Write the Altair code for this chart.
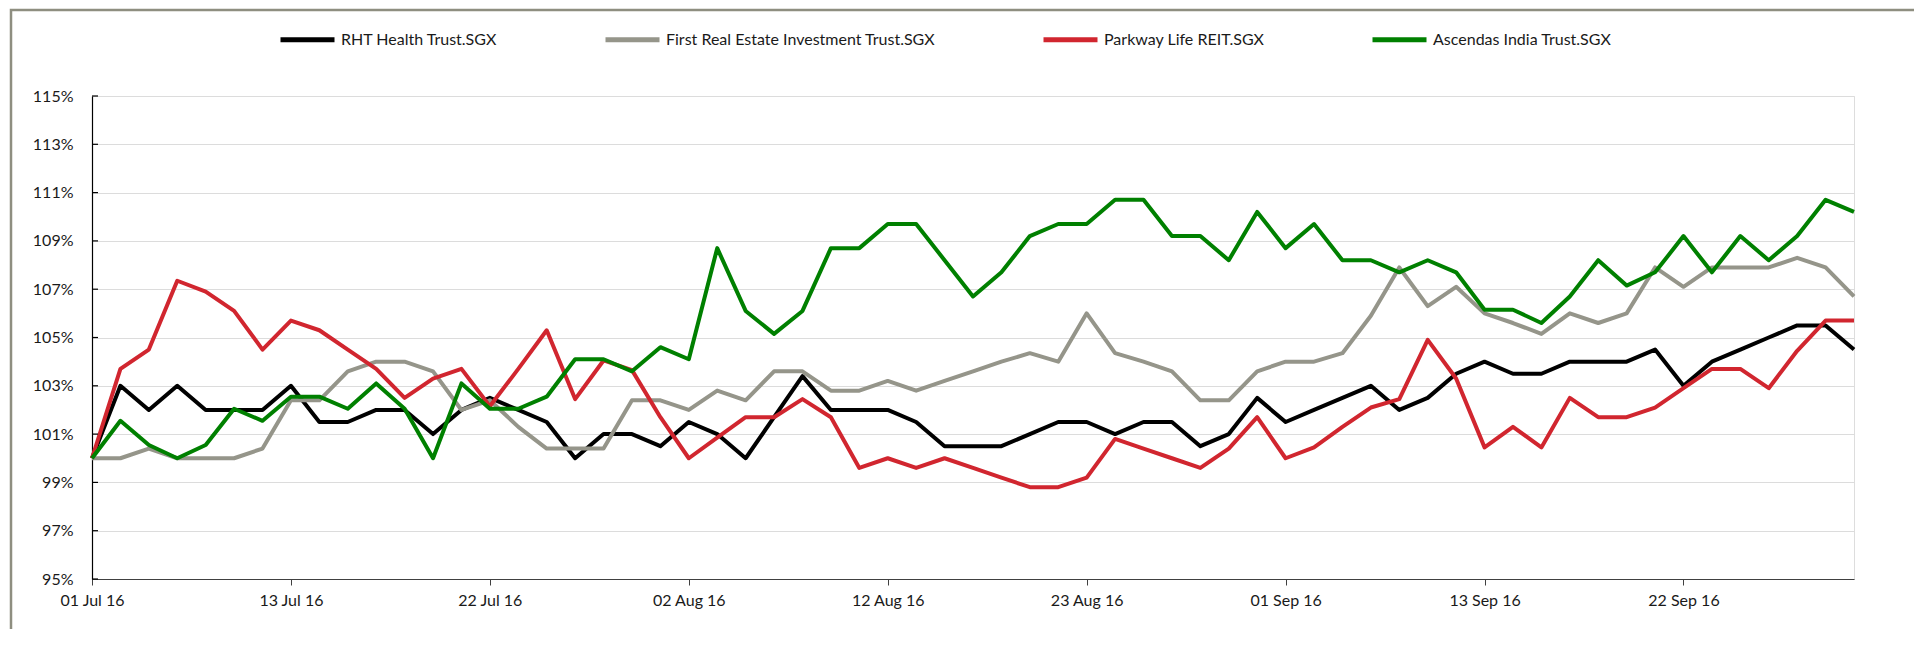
import altair as alt
import pandas as pd

dates = [
    "01 Jul 16", "04 Jul 16", "05 Jul 16", "07 Jul 16", "08 Jul 16",
    "11 Jul 16", "12 Jul 16", "13 Jul 16", "14 Jul 16", "15 Jul 16",
    "18 Jul 16", "19 Jul 16", "20 Jul 16", "21 Jul 16", "22 Jul 16",
    "25 Jul 16", "26 Jul 16", "27 Jul 16", "28 Jul 16", "29 Jul 16",
    "01 Aug 16", "02 Aug 16", "03 Aug 16", "04 Aug 16", "05 Aug 16",
    "08 Aug 16", "10 Aug 16", "11 Aug 16", "12 Aug 16",
    "15 Aug 16", "16 Aug 16", "17 Aug 16", "18 Aug 16", "19 Aug 16",
    "22 Aug 16", "23 Aug 16", "24 Aug 16", "25 Aug 16", "26 Aug 16",
    "29 Aug 16", "30 Aug 16", "31 Aug 16", "01 Sep 16", "02 Sep 16",
    "05 Sep 16", "06 Sep 16", "07 Sep 16", "08 Sep 16", "09 Sep 16",
    "13 Sep 16", "14 Sep 16", "15 Sep 16", "16 Sep 16",
    "19 Sep 16", "20 Sep 16", "21 Sep 16", "22 Sep 16", "23 Sep 16",
    "26 Sep 16", "27 Sep 16", "28 Sep 16", "29 Sep 16", "30 Sep 16",
]

tick_labels = ["01 Jul 16", "13 Jul 16", "22 Jul 16", "02 Aug 16", "12 Aug 16",
               "23 Aug 16", "01 Sep 16", "13 Sep 16", "22 Sep 16"]
y_ticks = [95, 97, 99, 101, 103, 105, 107, 109, 111, 113, 115]

series_names = ["RHT Health Trust.SGX", "First Real Estate Investment Trust.SGX",
                "Parkway Life REIT.SGX", "Ascendas India Trust.SGX"]
series_colors = ["#000000", "#95958a", "#d1262f", "#008000"]

rht = [100, 103.0, 102.0, 103.0, 102.0, 102.0, 102.0, 103.0, 101.5, 101.5,
       102.0, 102.0, 101.0, 102.0, 102.5, 102.0, 101.5, 100.0, 101.0, 101.0,
       100.5, 101.5, 101.0, 100.0, 101.7, 103.4, 102.0, 102.0, 102.0, 101.5,
       100.5, 100.5, 100.5, 101.0, 101.5, 101.5, 101.0, 101.5, 101.5, 100.5,
       101.0, 102.5, 101.5, 102.0, 102.5, 103.0, 102.0, 102.5, 103.5, 104.0,
       103.5, 103.5, 104.0, 104.0, 104.0, 104.5, 103.0, 104.0, 104.5, 105.0,
       105.5, 105.5, 104.5]

freit = [100, 100, 100.4, 100, 100, 100, 100.4, 102.4, 102.4, 103.6,
         104.0, 104.0, 103.6, 102.0, 102.4, 101.3, 100.4, 100.4, 100.4, 102.4,
         102.4, 102.0, 102.8, 102.4, 103.6, 103.6, 102.8, 102.8, 103.2, 102.8,
         103.2, 103.6, 104.0, 104.35, 104.0, 106.0, 104.35, 104.0, 103.6, 102.4,
         102.4, 103.6, 104.0, 104.0, 104.35, 105.9, 107.9, 106.3, 107.1, 106.0,
         105.6, 105.15, 106.0, 105.6, 106.0, 107.9, 107.1, 107.9, 107.9, 107.9,
         108.3, 107.9, 106.7]

plife = [100, 103.7, 104.5, 107.35, 106.9, 106.1, 104.5, 105.7, 105.3, 104.5,
         103.7, 102.5, 103.3, 103.7, 102.15, 103.7, 105.3, 102.45, 104.05, 103.65,
         101.7, 100.0, 100.85, 101.7, 101.7, 102.45, 101.7, 99.6, 100.0, 99.6,
         100.0, 99.6, 99.2, 98.8, 98.8, 99.2, 100.8, 100.4, 100.0, 99.6,
         100.4, 101.7, 100.0, 100.45, 101.3, 102.1, 102.45, 104.9, 103.3, 100.45,
         101.3, 100.45, 102.5, 101.7, 101.7, 102.1, 102.9, 103.7, 103.7, 102.9,
         104.45, 105.7, 105.7]

aindia = [100, 101.55, 100.55, 100, 100.55, 102.05, 101.55, 102.55, 102.55, 102.05,
          103.1, 102.05, 100.0, 103.1, 102.05, 102.05, 102.55, 104.1, 104.1, 103.6,
          104.6, 104.1, 108.7, 106.1, 105.15, 106.1, 108.7, 108.7, 109.7, 109.7,
          108.2, 106.7, 107.7, 109.2, 109.7, 109.7, 110.7, 110.7, 109.2, 109.2,
          108.2, 110.2, 108.7, 109.7, 108.2, 108.2, 107.7, 108.2, 107.7, 106.15,
          106.15, 105.6, 106.7, 108.2, 107.15, 107.7, 109.2, 107.7, 109.2, 108.2,
          109.2, 110.7, 110.2]

all_values = [rht, freit, plife, aindia]
rows = []
for name, vals in zip(series_names, all_values):
    for d, v in zip(dates, vals):
        rows.append({"date": d, "value": v, "series": name})
df = pd.DataFrame(rows)
ytick_df = pd.DataFrame({"value": y_ticks})

FONT = "Lato"

y_scale = alt.Scale(domain=[95, 115], nice=False, zero=False)
y_axis = alt.Axis(title=None, values=y_ticks,
                  labelExpr="datum.value + '%'",
                  labelFont=FONT, labelFontSize=16, labelColor="#1a1a1a",
                  ticks=False, tickSize=0, labelPadding=19,
                  domainColor="#000000", domainWidth=1.2,
                  grid=True, gridColor="#dcdcdc", gridWidth=1.2)

base = alt.Chart(df).encode(
    x=alt.X("date:O", sort=dates,
            scale=alt.Scale(type="point", padding=0),
            axis=alt.Axis(title=None, values=tick_labels, labelAngle=0,
                          labelFont=FONT, labelFontSize=16, labelColor="#1a1a1a",
                          tickSize=6, tickColor="#404040", labelPadding=7,
                          domainColor="#404040", domainWidth=1.2, grid=False)),
    y=alt.Y("value:Q", scale=y_scale, axis=y_axis),
    color=alt.Color("series:N",
                    scale=alt.Scale(domain=series_names, range=series_colors),
                    sort=series_names,
                    legend=alt.Legend(title=None, orient="none", direction="horizontal",
                                      legendX=186, legendY=-86,
                                      symbolType="stroke", symbolSize=2916,
                                      symbolStrokeWidth=5,
                                      labelFont=FONT, labelFontSize=16,
                                      labelColor="#1a1a1a", labelOffset=4,
                                      labelLimit=0,
                                      columnPadding=97, padding=0)),
)

lines = [
    base.transform_filter(alt.datum.series == s).mark_line(strokeWidth=4, strokeJoin="round")
    for s in series_names
]

# small inside tick marks on the y axis, placed through the y scale
yticks_marks = alt.Chart(ytick_df).mark_rule(color="#000000", strokeWidth=1.2).encode(
    y=alt.Y("value:Q", scale=y_scale, axis=y_axis),
    x=alt.value(0), x2=alt.value(6),
)

border = alt.Chart(pd.DataFrame({"a": [0]})).mark_rect(
    fillOpacity=0, stroke="#8e8e80", strokeWidth=2.5
).encode(
    x=alt.value(-81), x2=alt.value(1827), y=alt.value(-86), y2=alt.value(700)
)

chart = alt.layer(border, *lines, yticks_marks).properties(
    width=1762, height=483,
    autosize=alt.AutoSizeParams(type="none"),
    padding={"left": 84, "top": 88, "right": 60, "bottom": 50},
).configure_view(stroke="transparent").configure(font=FONT)

chart.save("out.html", embed_options={"renderer": "svg", "actions": False})
